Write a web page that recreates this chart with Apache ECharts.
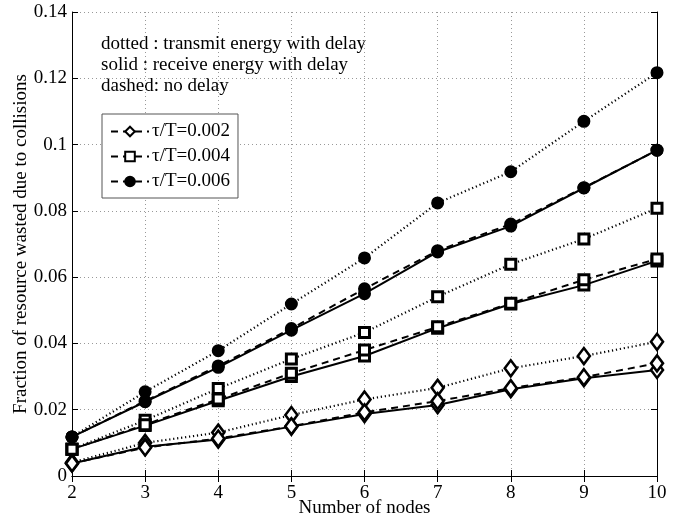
<!DOCTYPE html>
<html><head><meta charset="utf-8">
<script src="https://cdn.jsdelivr.net/npm/echarts@6/dist/echarts.min.js"></script>
<style>html,body{margin:0;padding:0;background:#fff}#c{width:680px;height:518px}</style>
</head><body><div id="c"></div>
<script>
const nodes = [2,3,4,5,6,7,8,9,10];
const yTicks = [0,0.02,0.04,0.06,0.08,0.1,0.12,0.14];
// tau/T = 0.002 (diamond)
const tx002 = [0.0041,0.0100,0.0131,0.0184,0.0231,0.0266,0.0325,0.0362,0.0405];
const rx002 = [0.0038,0.0088,0.0110,0.0149,0.0187,0.0214,0.0262,0.0295,0.0320];
const nd002 = [0.0038,0.0086,0.0113,0.0150,0.0192,0.0226,0.0265,0.0298,0.0340];
// tau/T = 0.004 (square)
const tx004 = [0.0081,0.0168,0.0264,0.0353,0.0433,0.0541,0.0639,0.0715,0.0808];
const rx004 = [0.0081,0.0152,0.0227,0.0300,0.0362,0.0446,0.0519,0.0576,0.0649];
const nd004 = [0.0081,0.0155,0.0232,0.0310,0.0380,0.0450,0.0521,0.0592,0.0655];
// tau/T = 0.006 (circle)
const tx006 = [0.0118,0.0254,0.0378,0.0519,0.0658,0.0824,0.0918,0.1070,0.1217];
const rx006 = [0.0118,0.0224,0.0328,0.0440,0.0550,0.0676,0.0754,0.0869,0.0983];
const nd006 = [0.0118,0.0226,0.0332,0.0445,0.0565,0.0680,0.0760,0.0870,0.0983];

const font = 'Liberation Serif';
const FS = 19;
const chart = echarts.init(document.getElementById('c'));
const markers = {
  '0.002': {symbol:'diamond', size:[12,16], color:'#fff', bw:2.6},
  '0.004': {symbol:'rect', size:10, color:'#fff', bw:3},
  '0.006': {symbol:'circle', size:11, color:'#000', bw:2}
};
function mk(name, data, key, type, inLegend){
  const m = markers[key];
  let lt = type==='dotted' ? [1.2,2.8] : (type==='dashed' ? [7,5] : 'solid');
  return {
    name: name, type:'line', data: nodes.map((x,i)=>[x,data[i]]),
    symbol: m.symbol, symbolSize: m.size, showSymbol:true,
    itemStyle:{color:m.color, borderColor:'#000', borderWidth:m.bw, opacity:1},
    lineStyle:{color:'#000', width: type==='dotted'?2.2:2, type: lt},
    animation:false, z: inLegend?3:2
  };
}
const series = [
  mk('tx002', tx002, '0.002','dotted'),
  mk('rx002', rx002, '0.002','solid'),
  mk('τ/T=0.002', nd002, '0.002','dashed',true),
  mk('tx004', tx004, '0.004','dotted'),
  mk('rx004', rx004, '0.004','solid'),
  mk('τ/T=0.004', nd004, '0.004','dashed',true),
  mk('tx006', tx006, '0.006','dotted'),
  mk('rx006', rx006, '0.006','solid'),
  mk('τ/T=0.006', nd006, '0.006','dashed',true)
];
const gridLine = {show:true, lineStyle:{color:'#999', type:[1,3], width:1}};
chart.setOption({
  backgroundColor:'#fff',
  animation:false,
  grid:{left:72, right:23, top:12, bottom:42, containLabel:false, outerBoundsMode:'none'},
  xAxis:[{
    type:'value', min:2, max:10, interval:1,
    axisLine:{show:true, lineStyle:{color:'#000', width:1}},
    axisTick:{show:true, inside:true, length:6, lineStyle:{color:'#000'}},
    axisLabel:{color:'#000', fontFamily:font, fontSize:FS, margin:8},
    splitLine: gridLine,
    name:'Number of nodes', nameLocation:'middle', nameGap:23, nameMoveOverlap:false,
    nameTextStyle:{color:'#000', fontFamily:font, fontSize:FS}
  },{
    type:'value', min:2, max:10, interval:1, position:'top',
    axisLine:{show:true, lineStyle:{color:'#000', width:1}},
    axisTick:{show:true, inside:true, length:6, lineStyle:{color:'#000'}},
    axisLabel:{show:false}, splitLine:{show:false}
  }],
  yAxis:[{
    type:'value', min:0, max:0.14, interval:0.02,
    axisLine:{show:true, lineStyle:{color:'#000', width:1}},
    axisTick:{show:true, inside:true, length:6, lineStyle:{color:'#000'}},
    axisLabel:{color:'#000', fontFamily:font, fontSize:FS, margin:5,
      formatter: v => { const t = yTicks.find(k=>Math.abs(k-v)<1e-9); return t===0?'0':String(+t.toFixed(2)); }},
    splitLine: gridLine,
    name:'Fraction of resource wasted due to collisions', nameLocation:'middle', nameGap:41, nameMoveOverlap:false,
    nameTextStyle:{color:'#000', fontFamily:font, fontSize:FS}
  },{
    type:'value', min:0, max:0.14, interval:0.02, position:'right',
    axisLine:{show:true, lineStyle:{color:'#000', width:1}},
    axisTick:{show:true, inside:true, length:6, lineStyle:{color:'#000'}},
    axisLabel:{show:false}, splitLine:{show:false}
  }],
  legend:{
    data:['τ/T=0.002','τ/T=0.004','τ/T=0.006'],
    orient:'vertical', left:102, top:114,
    padding:[8,8,7,8], itemGap:6, itemWidth:38, itemHeight:12,
    backgroundColor:'#fff', borderColor:'#555', borderWidth:1,
    textStyle:{color:'#000', fontFamily:font, fontSize:FS, padding:[0,0,0,-2]}
  },
  graphic:[
    {type:'text', left:101, top:35, style:{text:'dotted : transmit energy with delay', fill:'#000', font:FS+'px "Liberation Serif"'}},
    {type:'text', left:101, top:56, style:{text:'solid : receive energy with delay', fill:'#000', font:FS+'px "Liberation Serif"'}},
    {type:'text', left:101, top:77, style:{text:'dashed: no delay', fill:'#000', font:FS+'px "Liberation Serif"'}}
  ],
  series: series
});
</script></body></html>
